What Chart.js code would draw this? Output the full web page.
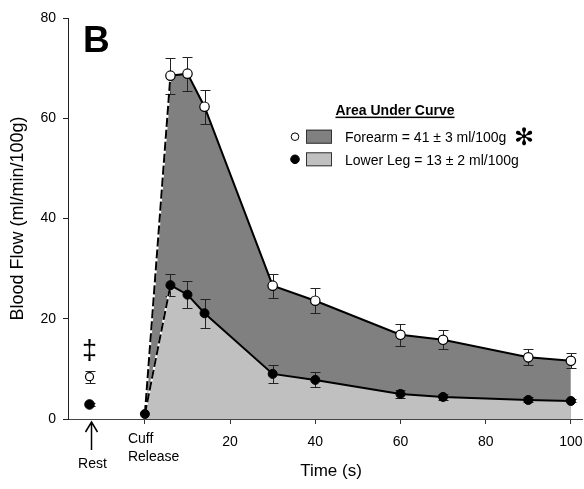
<!DOCTYPE html>
<html><head><meta charset="utf-8">
<script src="https://cdn.jsdelivr.net/npm/chart.js@4/dist/chart.umd.min.js"></script>
<style>html,body{margin:0;padding:0;background:#fff}canvas{display:block}</style>
</head><body>
<canvas id="c" width="584" height="489"></canvas>
<script>
// ---- data ----
const times = [0, 6, 10, 14, 30, 40, 60, 70, 90, 100];
const forearm = [1.0, 68.5, 68.9, 62.3, 26.6, 23.6, 16.8, 15.8, 12.3, 11.6];
const forearmErr = [0, 3.6, 3.4, 3.4, 2.4, 2.5, 2.2, 1.9, 1.6, 1.5];
const leg = [1.0, 26.7, 24.8, 21.1, 9.0, 7.8, 5.0, 4.4, 3.8, 3.6];
const legErr = [0, 2.2, 2.7, 2.9, 1.8, 1.5, 0.8, 0.6, 0.5, 0.3];
const restTime = [-13];
const restForearm = [8.45];
const restForearmErr = [1.2];
const restLeg = [2.9];
const restLegErr = [0.3];
const xTickValues = [0, 20, 40, 60, 80, 100];
const xTickLabels = ['', '20', '40', '60', '80', '100'];
const yTickValues = [0, 20, 40, 60, 80];
const yTickLabels = ['0', '20', '40', '60', '80'];
const xTitle = 'Time (s)';
const yTitle = 'Blood Flow (ml/min/100g)';
const legendTitle = 'Area Under Curve';
const legendLabels = ['Forearm = 41 \u00b1 3 ml/100g', 'Lower Leg = 13 \u00b1 2 ml/100g'];
const panelLabel = 'B';
const cuffLabel = ['Cuff', 'Release'];
const restLabel = 'Rest';
const restMark = '\u2021';
const sigMark = '\u273B';

const FONT = '"Liberation Sans", Arial, sans-serif';
const DARK = '#808080', LIGHT = '#c0c0c0';

const pts = (xs, ys) => xs.map((x, i) => ({x: x, y: ys[i]}));
const firstSeg = (xs, ys) => pts(xs.slice(0, 2), ys.slice(0, 2));

const errorBars = {
  id: 'errorBars',
  beforeDatasetsDraw(chart) {
    const {ctx, scales: {x, y}} = chart;
    const groups = [
      [times, forearm, forearmErr],
      [times, leg, legErr],
      [restTime, restForearm, restForearmErr],
      [restTime, restLeg, restLegErr]
    ];
    ctx.save();
    ctx.strokeStyle = '#222';
    ctx.lineWidth = 1;
    const cap = 5;
    groups.forEach(([xs, ys, es]) => {
      xs.forEach((t, i) => {
        if (!es[i]) return;
        const px = Math.round(x.getPixelForValue(t)) + 0.5;
        const top = Math.round(y.getPixelForValue(ys[i] + es[i])) + 0.5;
        const bot = Math.round(y.getPixelForValue(ys[i] - es[i])) + 0.5;
        ctx.beginPath();
        ctx.moveTo(px, top); ctx.lineTo(px, bot);
        ctx.moveTo(px - cap, top); ctx.lineTo(px + cap, top);
        ctx.moveTo(px - cap, bot); ctx.lineTo(px + cap, bot);
        ctx.stroke();
      });
    });
    ctx.restore();
  }
};

function centeredText(ctx, s, cx, cy) {
  const m = ctx.measureText(s);
  ctx.textAlign = 'center';
  ctx.textBaseline = 'alphabetic';
  ctx.fillText(s, cx, cy + (m.actualBoundingBoxAscent - m.actualBoundingBoxDescent) / 2);
}

const annotations = {
  id: 'annotations',
  afterDraw(chart) {
    const {ctx, chartArea, scales: {x, y}} = chart;
    ctx.save();
    // extend the x axis line to the right edge, as in the original figure
    ctx.strokeStyle = '#444';
    ctx.lineWidth = 1;
    ctx.beginPath();
    ctx.moveTo(chartArea.right - 1, Math.round(chartArea.bottom) + 0.5);
    ctx.lineTo(583, Math.round(chartArea.bottom) + 0.5);
    ctx.stroke();
    ctx.fillStyle = '#000';
    ctx.strokeStyle = '#000';

    // panel label
    ctx.font = 'bold 37px ' + FONT;
    ctx.textAlign = 'left'; ctx.textBaseline = 'alphabetic';
    ctx.fillText(panelLabel, 83, 52);

    // x-axis title
    ctx.font = '17px ' + FONT;
    ctx.textAlign = 'center';
    ctx.fillText(xTitle, 331, 476);

    // cuff release label
    const x0 = x.getPixelForValue(xTickValues[0]);
    ctx.font = '14px ' + FONT;
    ctx.textAlign = 'left';
    ctx.fillText(cuffLabel[0], x0 - 17, 443);
    ctx.fillText(cuffLabel[1], x0 - 17, 460.5);

    // rest arrow and label
    const xr = x.getPixelForValue(restTime[0]) + 2;
    ctx.lineWidth = 1.5;
    ctx.beginPath();
    ctx.moveTo(xr, 450); ctx.lineTo(xr, 422);
    ctx.moveTo(xr - 6, 432); ctx.lineTo(xr, 422); ctx.lineTo(xr + 6, 432);
    ctx.stroke();
    ctx.textAlign = 'center';
    ctx.fillText(restLabel, xr + 1, 467.5);

    // double dagger above rest forearm point
    ctx.font = '27px ' + FONT;
    centeredText(ctx, restMark, x.getPixelForValue(restTime[0]), 350);

    // legend
    const lx = 295, bx = 306, bw = 26, tx = 345;
    ctx.font = 'bold 14px ' + FONT;
    ctx.textAlign = 'center'; ctx.textBaseline = 'alphabetic';
    const tw = ctx.measureText(legendTitle).width;
    ctx.fillText(legendTitle, 395, 115);
    ctx.fillRect(395 - tw / 2, 116.6, tw, 1.5);

    const rows = [
      {cy: 136.7, fill: DARK, open: true},
      {cy: 159.3, fill: LIGHT, open: false}
    ];
    rows.forEach((r, i) => {
      ctx.beginPath();
      ctx.arc(lx, r.cy, r.open ? 3.8 : 4.3, 0, Math.PI * 2);
      ctx.fillStyle = r.open ? '#fff' : '#000';
      ctx.fill();
      ctx.lineWidth = 1;
      ctx.strokeStyle = '#000';
      ctx.stroke();
      ctx.fillStyle = r.fill;
      ctx.fillRect(bx, r.cy - 7, bw, 14);
      ctx.strokeStyle = '#333';
      ctx.strokeRect(bx + 0.5, r.cy - 7 + 0.5, bw - 1, 13);
      ctx.fillStyle = '#000';
      ctx.font = '14px ' + FONT;
      ctx.textAlign = 'left';
      ctx.fillText(legendLabels[i], tx, r.cy + 5.2);
    });
    // significance asterisk
    ctx.font = 'bold 24px "DejaVu Sans", sans-serif';
    centeredText(ctx, sigMark, 524, 136);
    ctx.restore();
  }
};

new Chart(document.getElementById('c'), {
  type: 'line',
  data: {
    datasets: [
      { // lower leg line (top)
        data: pts(times, leg),
        borderColor: '#000', borderWidth: 2,
        pointRadius: 4.5, pointBackgroundColor: '#000', pointBorderColor: '#000', pointBorderWidth: 1,
        segment: { borderDash: c => c.p0DataIndex === 0 ? [9, 3] : undefined },
        fill: false, order: 1
      },
      { // forearm line
        data: pts(times, forearm),
        borderColor: '#000', borderWidth: 2,
        pointRadius: c => c.dataIndex === 0 ? 0 : 4.7,
        pointBackgroundColor: '#fff', pointBorderColor: '#000', pointBorderWidth: 1.2,
        segment: { borderDash: c => c.p0DataIndex === 0 ? [9, 3] : undefined },
        fill: false, order: 2
      },
      { // white under dashed leg segment
        data: firstSeg(times, leg),
        borderColor: '#fff', borderWidth: 2, pointRadius: 0, fill: false, order: 3
      },
      { // white under dashed forearm segment
        data: firstSeg(times, forearm),
        borderColor: '#fff', borderWidth: 2, pointRadius: 0, fill: false, order: 4
      },
      { // lower leg area
        data: pts(times, leg),
        borderWidth: 0, borderColor: 'rgba(0,0,0,0)', pointRadius: 0,
        backgroundColor: LIGHT, fill: 'origin', order: 5
      },
      { // forearm area
        data: pts(times, forearm),
        borderWidth: 0, borderColor: 'rgba(0,0,0,0)', pointRadius: 0,
        backgroundColor: DARK, fill: 'origin', order: 6
      },
      { // rest forearm
        data: pts(restTime, restForearm), showLine: false,
        pointRadius: 4, pointBackgroundColor: '#fff', pointBorderColor: '#000', pointBorderWidth: 1.2,
        order: 0
      },
      { // rest leg
        data: pts(restTime, restLeg), showLine: false,
        pointRadius: 4.8, pointBackgroundColor: '#000', pointBorderColor: '#000',
        order: 0
      }
    ]
  },
  options: {
    responsive: false,
    devicePixelRatio: 1,
    animation: false,
    events: [],
    layout: { padding: { top: 18, right: 1, left: 0, bottom: 0 } },
    plugins: {
      legend: { display: false },
      tooltip: { enabled: false },
      filler: { drawTime: 'beforeDatasetsDraw' }
    },
    scales: {
      x: {
        type: 'linear', min: -18.05, max: 101.7,
        afterBuildTicks: s => { s.ticks = xTickValues.map(v => ({value: v})); },
        afterFit: s => { s.height = 70; s.paddingLeft = 0; s.paddingRight = 0; },
        ticks: {
          autoSkip: false, maxRotation: 0, padding: 10,
          font: { family: FONT, size: 14 }, color: '#000',
          callback: (v) => { const i = xTickValues.indexOf(v); return i >= 0 ? xTickLabels[i] : ''; }
        },
        grid: { drawOnChartArea: false, drawTicks: true, tickLength: 5, color: '#333', lineWidth: 1 },
        border: { display: true, color: '#444', width: 1 },
        title: { display: false, text: xTitle }
      },
      y: {
        type: 'linear', min: 0, max: 80,
        afterBuildTicks: s => { s.ticks = yTickValues.map(v => ({value: v})); },
        afterFit: s => { s.width = 68; s.paddingTop = 0; s.paddingBottom = 0; },
        ticks: {
          padding: 7,
          font: { family: FONT, size: 14 }, color: '#000',
          callback: (v) => { const i = yTickValues.indexOf(v); return i >= 0 ? yTickLabels[i] : ''; }
        },
        grid: { drawOnChartArea: false, drawTicks: true, tickLength: 5, color: '#222', lineWidth: 1 },
        border: { display: true, color: '#222', width: 1 },
        title: { display: true, text: yTitle, font: { family: FONT, size: 18 }, color: '#000', padding: { top: 7, bottom: 0 } }
      }
    }
  },
  plugins: [errorBars, annotations]
});
</script>
</body></html>
